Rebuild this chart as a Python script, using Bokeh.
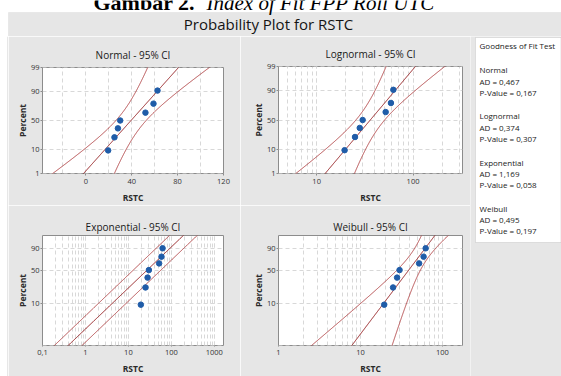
import math
import numpy as np
from statistics import NormalDist
from bokeh.plotting import figure
from bokeh.models import Range1d, FixedTicker, ColumnDataSource, BoxAnnotation, AllLabels, Span
from bokeh.layouts import row, column
from bokeh.embed import file_html
from bokeh.resources import INLINE
from bokeh.core.properties import value

# ---------------- data ----------------
rstc = [19.5, 25.0, 28.0, 30.0, 52.0, 59.0, 62.5]
dist_names = ["Normal", "Lognormal", "Exponential", "Weibull"]
ad_values = ["0,467", "0,374", "1,169", "0,495"]
p_values = ["0,167", "0,307", "0,058", "0,197"]
panel_titles = ["Normal - 95% CI", "Lognormal - 95% CI", "Exponential - 95% CI", "Weibull - 95% CI"]
pct_ticks_norm = [1, 10, 50, 90, 99]
pct_ticks_wbl = [1, 10, 50, 90]
x_ticks_normal = [0, 40, 80, 120]
x_grid_normal = [-20, 20, 60, 100]
x_ticks_lognormal = [10, 100]
x_ticks_exponential = [0.1, 1, 10, 100, 1000]
x_labels_exponential = ["0,1", "1", "10", "100", "1000"]
x_ticks_weibull = [1, 10, 100]
conf_level = 0.95
main_title = "Probability Plot for RSTC"
legend_title = "Goodness of Fit Test"
caption_bold = "Gambar 2."
caption_italic = "Index of Fit FPP Roll UTC"

# ---------------- styling ----------------
BG = "#e6e6e6"
FONT = "Open Sans"
FIT_COLOR = "#921b1e"
BAND_COLOR = "#b34a4c"
PT_COLOR = "#1f5ca8"
GRID_COLOR = "#d8d8d8"
FRAME_COLOR = "#8c8c8c"
EDGE_COLOR = "#cfcfcf"

ND = NormalDist()
kz = ND.inv_cdf(0.5 + conf_level / 2)
xs = np.sort(np.array(rstc, dtype=float))
n = len(xs)
ranks = (np.arange(1, n + 1) - 0.3) / (n + 0.4)   # Benard median ranks


def zq(p):
    return ND.inv_cdf(p)


def wq(p):
    return math.log(-math.log(1.0 - p))


pts_z = np.array([zq(p) for p in ranks])
pts_w = np.array([wq(p) for p in ranks])

# ---- Normal fit ----
m_n = xs.mean()
s_n = xs.std(ddof=1)
zg = np.linspace(-3.2, 3.2, 300)
n_fit = m_n + zg * s_n
n_se = np.sqrt(s_n ** 2 / n + zg ** 2 * s_n ** 2 / (2 * (n - 1)))
n_lo = n_fit - kz * n_se
n_hi = n_fit + kz * n_se

# ---- Lognormal fit ----
lx = np.log(xs)
m_l = lx.mean()
s_l = lx.std(ddof=1)
l_fit = m_l + zg * s_l
l_se = np.sqrt(s_l ** 2 / n + zg ** 2 * s_l ** 2 / (2 * (n - 1)))
l_lo = np.exp(l_fit - kz * l_se)
l_hi = np.exp(l_fit + kz * l_se)
l_fit = np.exp(l_fit)

# ---- Exponential fit ----
theta = xs.mean()
wg = np.linspace(-6.0, 2.5, 300)
e_fit = theta * np.exp(wg)
e_lo = e_fit * np.exp(-kz / np.sqrt(n))
e_hi = e_fit * np.exp(kz / np.sqrt(n))


# ---- Weibull fit (MLE) ----
def _g(beta):
    xb = xs ** beta
    return (xb * lx).sum() / xb.sum() - 1.0 / beta - lx.mean()


a_, b_ = 0.2, 30.0
for _ in range(200):
    mid = 0.5 * (a_ + b_)
    if _g(a_) * _g(mid) <= 0:
        b_ = mid
    else:
        a_ = mid
beta = 0.5 * (a_ + b_)
eta = np.mean(xs ** beta) ** (1.0 / beta)
u = math.log(eta)
bsc = 1.0 / beta
gam = 0.5772156649015329
c11 = math.pi ** 2 / 6 + (1 - gam) ** 2
c12 = 1 - gam
det = math.pi ** 2 / 6
w_var = (bsc ** 2 / n) / det * (c11 - 2 * c12 * wg + wg ** 2)
w_ln = u + bsc * wg
w_fit = np.exp(w_ln)
w_lo = np.exp(w_ln - kz * np.sqrt(w_var))
w_hi = np.exp(w_ln + kz * np.sqrt(w_var))


def minor_log(lo, hi):
    out = []
    d = 10.0 ** math.floor(math.log10(lo))
    while d <= hi:
        for k in range(1, 10):
            v = k * d
            if lo < v < hi:
                out.append(round(v, 6))
        d *= 10
    return out


def panel(width, height, left, right, top, bottom, xr, yr, xlog, title, title_standoff, title_offset,
          xticks, xlabels, xminor, yticks_p, ytrans, tick_out_x, label_standoff_x):
    p = figure(width=width, height=height, x_range=Range1d(*xr), y_range=Range1d(*yr),
               x_axis_type="log" if xlog else "linear", output_backend="svg", toolbar_location=None,
               min_border_left=left, min_border_right=right, min_border_top=top, min_border_bottom=bottom)
    p.border_fill_color = BG
    p.background_fill_color = "white"
    p.outline_line_color = FRAME_COLOR
    p.outline_line_width = 1
    p.title.text = title
    p.title.align = "center"
    p.title.text_font = FONT
    p.title.text_font_size = "10px"
    p.title.text_font_style = "normal"
    p.title.text_color = "#1a1a1a"
    p.title.standoff = title_standoff
    p.title.offset = title_offset

    ytv = [round(ytrans(v / 100.0), 9) for v in yticks_p]
    p.yaxis.ticker = FixedTicker(ticks=ytv)
    p.yaxis.major_label_overrides = {t: str(v) for t, v in zip(ytv, yticks_p)}
    p.xaxis.ticker = FixedTicker(ticks=list(xticks), minor_ticks=list(xminor))
    p.xaxis.major_label_overrides = {t: l for t, l in zip(xticks, xlabels)}
    p.xaxis.axis_label = "RSTC"
    p.yaxis.axis_label = "Percent"
    for ax in p.axis:
        ax.axis_line_color = None
        ax.major_tick_line_color = FRAME_COLOR
        ax.major_tick_in = 0
        ax.minor_tick_line_color = None
        ax.major_label_text_font = FONT
        ax.major_label_text_font_size = "7.5px"
        ax.major_label_text_color = "#333333"
        ax.axis_label_text_font = FONT
        ax.axis_label_text_font_size = "8.5px"
        ax.axis_label_text_font_style = "bold"
        ax.axis_label_text_color = "#2a2a2a"
        ax.major_label_policy = AllLabels()
    p.yaxis.major_tick_out = 2
    p.yaxis.major_label_standoff = 1
    p.yaxis.axis_label_standoff = 0
    p.xaxis.major_tick_out = tick_out_x
    p.xaxis.major_label_standoff = label_standoff_x
    p.xaxis.axis_label_standoff = 5
    for g in (p.xgrid, p.ygrid):
        g.grid_line_color = GRID_COLOR
        g.grid_line_dash = "4 3"
        g.grid_line_width = 1
    p.xgrid.minor_grid_line_color = GRID_COLOR
    p.xgrid.minor_grid_line_dash = "4 3"
    return p


def add_curves(p, lo, fit, hi, yv, px, py):
    src = ColumnDataSource(dict(lo=lo, fit=fit, hi=hi, y=yv))
    p.line("lo", "y", source=src, color=BAND_COLOR, line_width=1)
    p.line("hi", "y", source=src, color=BAND_COLOR, line_width=1)
    p.line("fit", "y", source=src, color=FIT_COLOR, line_width=1)
    ps = ColumnDataSource(dict(x=px, y=py))
    p.scatter("x", "y", source=ps, size=5.5, color=PT_COLOR, line_color=PT_COLOR)


zlim = (zq(0.01), zq(0.99))
wlim = (wq(0.01), wq(0.992))

p_norm = panel(232, 169, 34, 17, 31, 29, (-37.7, 120), zlim, False, panel_titles[0], 12, 3,
               x_ticks_normal, [str(v) for v in x_ticks_normal], x_grid_normal, pct_ticks_norm, zq, 2, 1)
add_curves(p_norm, n_lo, n_fit, n_hi, zg, xs, pts_z)

p_logn = panel(230, 169, 38, 8, 30, 29, (4.02, 326), zlim, True, panel_titles[1], 11, 0,
               x_ticks_lognormal, [str(v) for v in x_ticks_lognormal], minor_log(4.02, 326),
               pct_ticks_norm, zq, 2, 1)
add_curves(p_logn, l_lo, l_fit, l_hi, zg, xs, pts_z)

p_expo = panel(232, 171, 34, 7, 30, 27, (0.1, 1640), wlim, True, panel_titles[2], 3, 0,
               x_ticks_exponential, x_labels_exponential, minor_log(0.1, 1640), pct_ticks_wbl, wq, 1, 0)
add_curves(p_expo, e_lo, e_fit, e_hi, wg, xs, pts_w)

p_weib = panel(230, 171, 37, 8, 30, 27, (1.0, 176), wlim, True, panel_titles[3], 3, 0,
               x_ticks_weibull, [str(v) for v in x_ticks_weibull], minor_log(1.0, 176), pct_ticks_wbl, wq, 1, 0)
add_curves(p_weib, w_lo, w_fit, w_hi, wg, xs, pts_w)


def plain(width, height, bg):
    p = figure(width=width, height=height, x_range=Range1d(0, width), y_range=Range1d(height, 0),
               output_backend="svg", toolbar_location=None, min_border=0)
    p.axis.visible = False
    p.grid.visible = False
    p.outline_line_color = None
    p.background_fill_color = bg
    p.border_fill_color = bg
    return p


# header: caption strip (cut off at the top of the picture) + grey title band
hdr = plain(561, 36, "white")
hdr.add_layout(BoxAnnotation(left=8, right=562, top=12, bottom=37, fill_color=BG, fill_alpha=1,
                             line_color=EDGE_COLOR, line_width=1, level="underlay"))
hdr.text(x=[93], y=[2], text=[caption_bold], text_font=value("Liberation Serif"), text_font_size="22px",
         text_font_style="bold", text_baseline="alphabetic", text_align="left", text_color="black")
hdr.text(x=[206], y=[2], text=[caption_italic], text_font=value("Liberation Serif"), text_font_size="21px",
         text_font_style="italic", text_baseline="alphabetic", text_align="left", text_color="black")
hdr.text(x=[268], y=[23], text=[main_title], text_font=value(FONT), text_font_size="15px",
         text_baseline="middle", text_align="center", text_color="#141414")

# thin white margin on the left with the grey panel's edge
edge = plain(8, 340, "white")
edge.add_layout(Span(location=7.5, dimension="height", line_color=EDGE_COLOR, line_width=1))

# goodness of fit box
leg = plain(91, 340, BG)
leg.add_layout(BoxAnnotation(left=5, right=90.5, top=1, bottom=206, fill_color="white", fill_alpha=1,
                             line_color="#a8a8a8", line_width=1, level="underlay"))
lines, ys = [legend_title], [9.0]
for k, (nm, a, pv) in enumerate(zip(dist_names, ad_values, p_values)):
    y0 = 33.3 + 46.1 * k
    lines += [nm, "AD = " + a, "P-Value = " + pv]
    ys += [y0, y0 + 11.4, y0 + 22.8]
lsrc = ColumnDataSource(dict(x=[9] * len(lines), y=ys, t=lines))
leg.text(x="x", y="y", text="t", source=lsrc, text_font=value(FONT), text_font_size="8px",
         text_baseline="middle", text_align="left", text_color="#1a1a1a")

grid_area = row(column(p_norm, p_expo), column(p_logn, p_weib), leg)
layout = column(hdr, row(edge, grid_area))

open("out.html", "w").write(file_html(layout, INLINE))
